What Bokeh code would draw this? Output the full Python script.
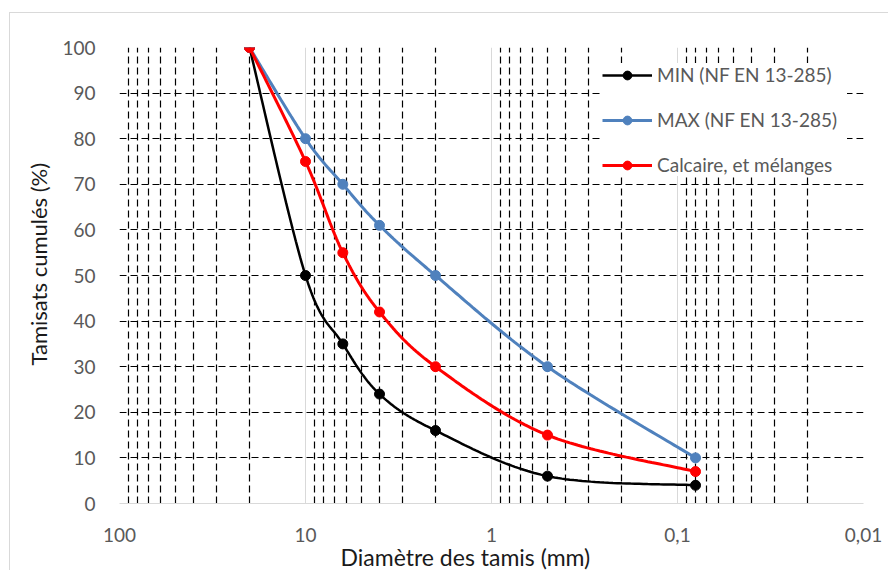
import numpy as np
from bokeh.plotting import figure
from bokeh.models import (Range1d, FixedTicker, CustomJSTickFormatter, Legend, LegendItem, Title)
from bokeh.embed import file_html
from bokeh.resources import INLINE

# ---- data ----
sieves = [20, 10, 6.3, 4, 2, 0.5, 0.08]
min_vals = [100, 50, 35, 24, 16, 6, 4]
max_vals = [100, 80, 70, 61, 50, 30, 10]
calc_vals = [100, 75, 55, 42, 30, 15, 7]
series_names = ["MIN (NF EN 13-285)", "MAX (NF EN 13-285)", "Calcaire, et mélanges"]
series_colors = ["#000000", "#4f81bd", "#ff0000"]
x_ticks = [100, 10, 1, 0.1, 0.01]
y_ticks = list(range(0, 101, 10))
x_title = "Diamètre des tamis (mm)"
y_title = "Tamisats cumulés (%)"

FONT = "Lato"


def smooth(xs, ys, n=40):
    """Excel-like smoothed line (Catmull-Rom Bezier) in log-x space."""
    pts = np.column_stack([np.log10(xs), np.asarray(ys, float)])
    P = np.vstack([pts[0], pts, pts[-1]])
    out = []
    t = np.linspace(0, 1, n)[:, None]
    for i in range(1, len(P) - 2):
        p0, p1, p2, p3 = P[i - 1], P[i], P[i + 1], P[i + 2]
        c1 = p1 + (p2 - p0) / 6.0
        c2 = p2 - (p3 - p1) / 6.0
        seg = (1 - t) ** 3 * p1 + 3 * (1 - t) ** 2 * t * c1 + 3 * (1 - t) * t ** 2 * c2 + t ** 3 * p2
        out.append(seg if i == 1 else seg[1:])
    s = np.vstack(out)
    return 10 ** s[:, 0], s[:, 1]


p = figure(width=879, height=558, x_axis_type="log",
           x_range=Range1d(100, 0.01), y_range=Range1d(0, 100),
           output_backend="svg", toolbar_location=None,
           min_border_left=109, min_border_right=26, min_border_top=34, min_border_bottom=68,
           margin=(12, 0, 0, 9),
           styles={"border-top": "1px solid #d9d9d9", "border-left": "1px solid #d9d9d9"})
p.outline_line_color = None
p.background_fill_color = "white"
p.border_fill_color = "white"

# grids
minors = [m * 10.0 ** k for k in range(-2, 2) for m in range(2, 10)]
p.xgrid.ticker = FixedTicker(ticks=x_ticks, minor_ticks=minors)
p.xgrid.grid_line_color = "#d9d9d9"
p.xgrid.grid_line_width = 1
p.xgrid.minor_grid_line_color = "black"
p.xgrid.minor_grid_line_dash = "7 4"
p.xgrid.minor_grid_line_width = 1.2
p.ygrid.ticker = FixedTicker(ticks=y_ticks[1:])
p.ygrid.grid_line_color = "black"
p.ygrid.grid_line_dash = "7 4"
p.ygrid.grid_line_width = 1.2

# axes
p.xaxis.ticker = FixedTicker(ticks=x_ticks)
p.xaxis.formatter = CustomJSTickFormatter(code="return String(tick).replace('.', ',');")
p.yaxis.ticker = FixedTicker(ticks=y_ticks)
for ax in (p.xaxis[0], p.yaxis[0]):
    ax.major_tick_line_color = None
    ax.minor_tick_line_color = None
    ax.major_label_text_color = "#595959"
    ax.major_label_text_font = FONT
    ax.major_label_text_font_size = "19px"
p.xaxis.axis_line_color = "#d9d9d9"
p.xaxis.major_label_standoff = 18
p.yaxis.axis_line_color = None
p.yaxis.major_label_standoff = 18

# series
items = []
for vals, name, col in zip([min_vals, max_vals, calc_vals], series_names, series_colors):
    sx, sy = smooth(sieves, vals)
    lw = 2.5 if col == "#000000" else 3
    r1 = p.line(sx, sy, line_color=col, line_width=lw)
    r2 = p.scatter(sieves, vals, marker="circle", size=10, fill_color=col, line_color=col)
    items.append(LegendItem(label=name, renderers=[r1, r2]))

legend = Legend(items=items, location="top_right", orientation="vertical",
                glyph_width=50, glyph_height=22, label_height=22, spacing=22,
                padding=10, margin=16, label_standoff=5, label_width=190,
                label_text_font=FONT, label_text_font_size="19px", label_text_color="#595959",
                border_line_color=None, background_fill_color="white", background_fill_alpha=1.0)
p.add_layout(legend)

# axis titles
p.add_layout(Title(text=x_title, align="left", offset=221, standoff=-7,
                   text_font=FONT, text_font_size="23px", text_font_style="normal",
                   text_color="#1a1a1a"), "below")
p.add_layout(Title(text=y_title, align="left", offset=138, standoff=16,
                   text_font=FONT, text_font_size="22px", text_font_style="normal",
                   text_color="#1a1a1a"), "left")

open("out.html", "w").write(file_html(p, INLINE))
